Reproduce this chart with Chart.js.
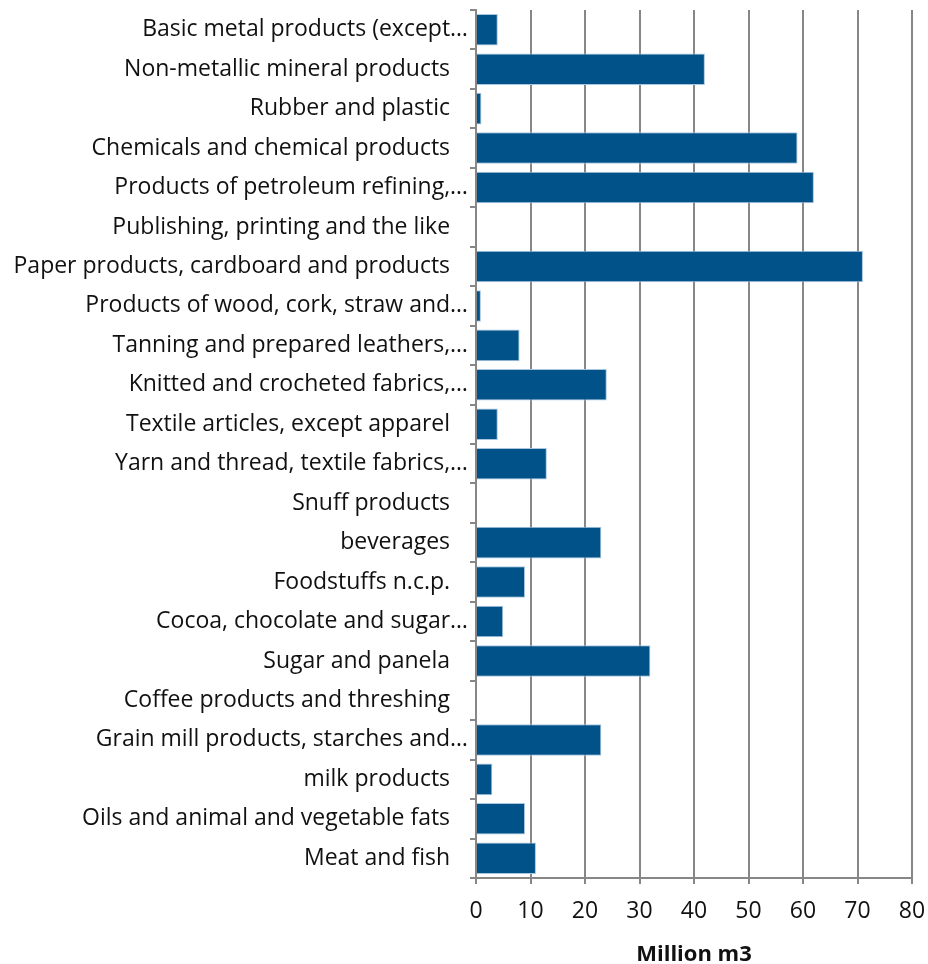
<!DOCTYPE html>
<html>
<head>
<meta charset="utf-8">
<script src="https://cdn.jsdelivr.net/npm/chart.js@4/dist/chart.umd.min.js"></script>
<style>
html,body{margin:0;padding:0;background:#fff;}
#wrap{width:928px;height:964px;}
</style>
</head>
<body>
<div id="wrap"><canvas id="c" width="928" height="964"></canvas></div>
<script>
const categories = [
  "Basic metal products (except…",
  "Non-metallic mineral products",
  "Rubber and plastic",
  "Chemicals and chemical products",
  "Products of petroleum refining,…",
  "Publishing, printing and the like",
  "Paper products, cardboard and products",
  "Products of wood, cork, straw and…",
  "Tanning and prepared leathers,…",
  "Knitted and crocheted fabrics,…",
  "Textile articles, except apparel",
  "Yarn and thread, textile fabrics,…",
  "Snuff products",
  "beverages",
  "Foodstuffs n.c.p.",
  "Cocoa, chocolate and sugar…",
  "Sugar and panela",
  "Coffee products and threshing",
  "Grain mill products, starches and…",
  "milk products",
  "Oils and animal and vegetable fats",
  "Meat and fish"
];
const values = [4, 42, 1, 59, 62, 0.2, 71, 0.9, 8, 24, 4, 13, 0, 23, 9, 5, 32, 0, 23, 3, 9, 11];
const xTicks = [0, 10, 20, 30, 40, 50, 60, 70, 80];
const xTitle = "Million m3";

const FONT = "'Open Sans'";
const GRID = "#878787";

new Chart(document.getElementById('c'), {
  type: 'bar',
  data: {
    labels: categories,
    datasets: [{
      data: values,
      backgroundColor: '#02528A',
      borderColor: '#a9c6e0',
      borderWidth: 1,
      barPercentage: 0.8,
      categoryPercentage: 1.0
    }]
  },
  options: {
    indexAxis: 'y',
    responsive: false,
    animation: false,
    layout: { padding: { top: 10, right: 0, left: 0, bottom: 0 } },
    plugins: { legend: { display: false }, tooltip: { enabled: false } },
    scales: {
      y: {
        offset: true,
        grid: { display: true, offset: true, drawOnChartArea: false, tickLength: 6, color: GRID, lineWidth: 2 },
        border: { display: true, color: GRID, width: 2 },
        ticks: {
          autoSkip: false,
          padding: 2,
          color: '#111',
          font: { family: FONT, size: 23 },
          callback: function(v, i) {
            const s = categories[i];
            return s.endsWith('…') ? s : s + '   ';
          }
        },
        afterFit: function(a) { a.width = 476; a.paddingTop = 0; a.paddingBottom = 0; }
      },
      x: {
        min: 0, max: 80,
        afterBuildTicks: function(a) { a.ticks = xTicks.map(v => ({ value: v })); },
        grid: { color: GRID, lineWidth: 2, tickLength: 6 },
        border: { display: true, color: GRID, width: 2 },
        ticks: { color: '#111', padding: 14, font: { family: FONT, size: 23 } },
        title: { display: true, text: xTitle, color: '#111', font: { family: FONT, size: 22, weight: 'bold' }, padding: { top: 4, bottom: -4 } },
        afterFit: function(a) { a.height = 86; a.paddingRight = 16; }
      }
    }
  }
});
</script>
</body>
</html>
